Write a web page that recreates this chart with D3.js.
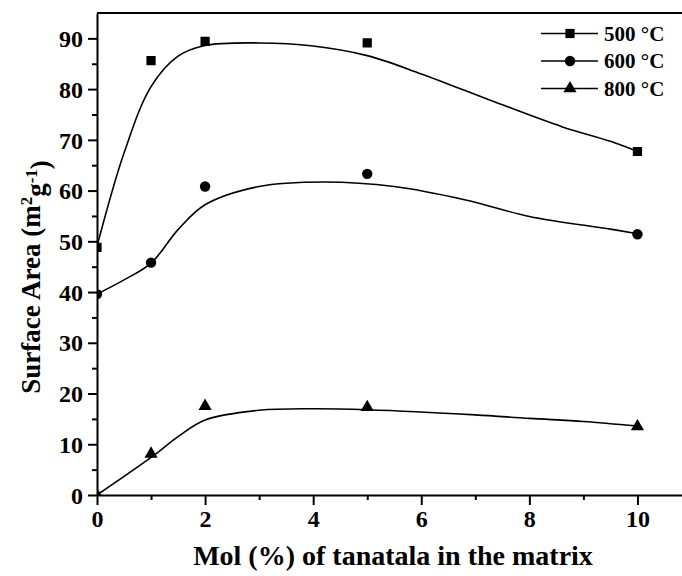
<!DOCTYPE html>
<html lang="en">
<head>
    <meta charset="UTF-8">
    <title>Surface Area vs Mol %</title>
    <script src="https://d3js.org/d3.v7.min.js"></script>
    <style>
        body { margin: 0; background: #fff; }
        text { font-family: "Liberation Serif", "Times New Roman", serif; font-weight: bold; }
    </style>
</head>
<body>
<div id="chart"></div>
<script>
    // measured points
    var molPct = [0, 1, 2, 5, 10];
    var series500 = [48.8, 85.6, 89.4, 89.1, 67.7];
    var series600 = [39.6, 45.8, 60.8, 63.3, 51.4];
    var series800 = [0, 8.1, 17.5, 17.3, 13.5];

    // fitted curves
    var fit500X = [0, 0.5, 1, 1.5, 2, 3, 4, 5, 6, 7.4, 8.6, 9.5, 10];
    var fit500Y = [49, 67.4, 80.5, 86.5, 88.6, 89.1, 88.5, 86.6, 83, 77.3, 72.6, 69.7, 67.7];
    var fit600X = [0, 0.5, 1, 1.5, 2, 3, 4.2, 5.5, 6.8, 8, 9.5, 10];
    var fit600Y = [39.6, 42.4, 45.7, 52.3, 57.2, 60.8, 61.7, 60.8, 58.2, 54.9, 52.4, 51.5];
    var fit800X = [0, 1, 1.5, 2, 3, 4, 5, 7, 8, 9, 10];
    var fit800Y = [0, 7.4, 11.5, 14.8, 16.7, 17.0, 16.8, 15.8, 15.1, 14.5, 13.6];

    var legendLabels = ["500 °C", "600 °C", "800 °C"];
    var xTicks = [0, 2, 4, 6, 8, 10];
    var yTicks = [0, 10, 20, 30, 40, 50, 60, 70, 80, 90];

    var svg = d3.select("#chart").append("svg")
        .attr("width", 682)
        .attr("height", 576);

    var x = d3.scaleLinear().domain([0, 11]).range([97, 691.5]);
    var y = d3.scaleLinear().domain([0, 95]).range([495, 13]);

    svg.append("clipPath").attr("id", "plotclip")
        .append("rect")
        .attr("x", x(0)).attr("y", y(95))
        .attr("width", x(11) - x(0)).attr("height", y(0) - y(95));

    // top frame line
    svg.append("line")
        .attr("x1", x(0)).attr("x2", x(11))
        .attr("y1", y(95)).attr("y2", y(95))
        .attr("stroke", "#000").attr("stroke-width", 2);

    // minor ticks
    var xAxisMinor = d3.axisBottom(x).tickValues(d3.range(1, 11, 2)).tickSize(5).tickFormat("");
    var yAxisMinor = d3.axisLeft(y).tickValues(d3.range(5, 95, 10)).tickSize(5).tickFormat("");

    svg.append("g").attr("transform", "translate(0," + y(0) + ")").call(xAxisMinor)
        .call(function(g) { g.select(".domain").remove(); })
        .selectAll("line").attr("stroke-width", 2);
    svg.append("g").attr("transform", "translate(" + x(0) + ",0)").call(yAxisMinor)
        .call(function(g) { g.select(".domain").remove(); })
        .selectAll("line").attr("stroke-width", 2);

    var xAxis = d3.axisBottom(x).tickValues(xTicks).tickSize(10).tickSizeOuter(0).tickPadding(5);
    var yAxis = d3.axisLeft(y).tickValues(yTicks).tickSize(9).tickSizeOuter(0).tickPadding(5);

    var gx = svg.append("g").attr("transform", "translate(0," + y(0) + ")").call(xAxis);
    var gy = svg.append("g").attr("transform", "translate(" + x(0) + ",0)").call(yAxis);

    [gx, gy].forEach(function(g) {
        g.select(".domain").attr("stroke-width", 2);
        g.selectAll(".tick line").attr("stroke-width", 2);
        g.selectAll(".tick text")
            .style("font-size", "24px")
            .style("font-family", "'Liberation Serif', serif")
            .style("font-weight", "bold")
            .attr("fill", "#000");
    });
    gy.selectAll(".tick text").attr("dy", "0.34em");

    // curves
    var line = d3.line()
        .x(function(d) { return x(d[0]); })
        .y(function(d) { return y(d[1]); })
        .curve(d3.curveCatmullRom);

    var plot = svg.append("g").attr("clip-path", "url(#plotclip)");

    [[fit500X, fit500Y], [fit600X, fit600Y], [fit800X, fit800Y]].forEach(function(f) {
        plot.append("path")
            .datum(d3.zip(f[0], f[1]))
            .attr("d", line)
            .attr("fill", "none")
            .attr("stroke", "#000")
            .attr("stroke-width", 1.6);
    });

    var symbols = [d3.symbolSquare, d3.symbolCircle, d3.symbolTriangle];
    var sizes = [85, 85, 75];
    var allSeries = [series500, series600, series800];

    allSeries.forEach(function(s, i) {
        plot.selectAll(".pt" + i)
            .data(d3.zip(molPct, s))
            .enter()
            .append("path")
            .attr("class", "pt" + i)
            .attr("transform", function(d) {
                return "translate(" + x(d[0]) + "," + y(d[1]) + ")";
            })
            .attr("d", d3.symbol().type(symbols[i]).size(sizes[i]))
            .attr("fill", "#000");
    });

    // legend
    var legend = svg.append("g");
    legendLabels.forEach(function(lab, i) {
        var ly = 33.5 + i * 27.5;
        legend.append("line")
            .attr("x1", 541).attr("x2", 598)
            .attr("y1", ly).attr("y2", ly)
            .attr("stroke", "#000").attr("stroke-width", 1.6);
        legend.append("path")
            .attr("transform", "translate(570," + ly + ")")
            .attr("d", d3.symbol().type(symbols[i]).size(sizes[i]))
            .attr("fill", "#000");
        legend.append("text")
            .attr("x", 604).attr("y", ly + 7)
            .style("font-size", "21px")
            .text(lab);
    });

    // axis titles
    svg.append("text")
        .attr("x", 393).attr("y", 565)
        .attr("text-anchor", "middle")
        .style("font-size", "28px")
        .text("Mol (%) of tanatala in the matrix");

    var yl = svg.append("text")
        .attr("transform", "translate(40,277) rotate(-90)")
        .attr("text-anchor", "middle")
        .style("font-size", "27px");
    yl.append("tspan").text("Surface Area (m");
    yl.append("tspan").attr("dy", "-0.45em").style("font-size", "17px").text("2");
    yl.append("tspan").attr("dy", "0.45em").text("g");
    yl.append("tspan").attr("dy", "-0.45em").style("font-size", "17px").text("-1");
    yl.append("tspan").attr("dy", "0.45em").text(")");
</script>
</body>
</html>
